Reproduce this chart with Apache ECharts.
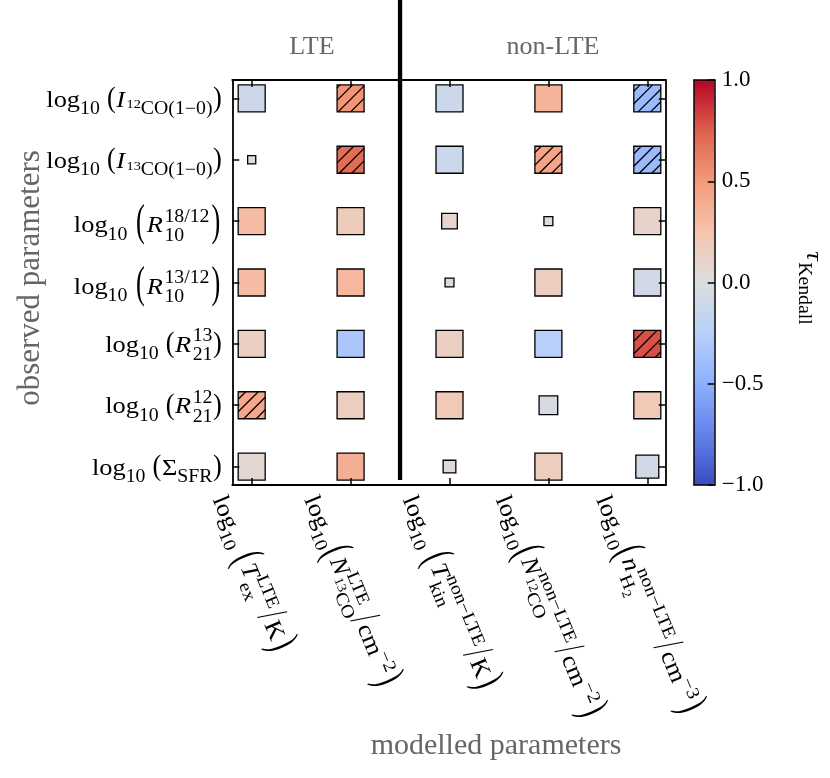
<!DOCTYPE html>
<html><head><meta charset="utf-8">
<script src="https://cdn.jsdelivr.net/npm/echarts@6/dist/echarts.min.js"></script>
<style>html,body{margin:0;padding:0;background:#fff}#c{width:830px;height:778px}</style>
</head><body><div id="c"></div>
<script>
// ---------- data ----------
const modelLabels = [
  'log_{10} \\big(*T*^{LTE}_{ex}\\big/K\\big)',
  'log_{10}\\big(*N*^{LTE}_{^{13}CO}\\big/cm^{−2}\\big)',
  'log_{10} \\big(*T*^{non−LTE}_{kin}\\big/K\\big)',
  'log_{10}\\big(*N*^{non−LTE}_{^{12}CO}\\big/cm^{−2}\\big)',
  'log_{10}\\big(*n*^{non−LTE}_{H_{2}}\\big/cm^{−3}\\big)'
];
const obsLabels = [
  'log_{10} \\m(*I*_{^{12}CO(1−0)}\\m)',
  'log_{10} \\m(*I*_{^{13}CO(1−0)}\\m)',
  'log_{10} \\big(*R*^{18/12}_{10}\\big)',
  'log_{10} \\big(*R*^{13/12}_{10}\\big)',
  'log_{10} \\m(*R*^{13}_{21}\\m)',
  'log_{10} \\m(*R*^{12}_{21}\\m)',
  'log_{10} \\m(Σ_{SFR}\\m)'
];
const groupTitles = ['LTE', 'non-LTE'];
const colorbarTicks = [-1, -0.5, 0, 0.5, 1];

// Kendall tau, one array per observed parameter (columns = modelled parameters)
const tauI12CO  = [-0.11, 0.52, -0.12, 0.35, -0.42];
const tauI13CO  = [ 0.00, 0.70, -0.12, 0.44, -0.42];
const tauR1812  = [ 0.30, 0.17,  0.08, 0.02,  0.10];
const tauR1312  = [ 0.30, 0.32, -0.01, 0.15, -0.08];
const tauR13_21 = [ 0.14, -0.33, 0.14, -0.25, 0.79];
const tauR12_21 = [ 0.42, 0.15,  0.20, -0.05, 0.20];
const tauSFR    = [ 0.07, 0.38,  0.04, 0.16, -0.08];
const tauRows = [tauI12CO, tauI13CO, tauR1812, tauR1312, tauR13_21, tauR12_21, tauSFR];

// relative marker weight (fraction of full cell marker)
const weightRows = [
  [1, 1, 1, 1, 1],
  [0.3, 1, 1, 1, 1],
  [1, 1, 0.58, 0.33, 1],
  [1, 1, 0.33, 1, 1],
  [1, 1, 1, 1, 1],
  [1, 1, 1, 0.69, 1],
  [1, 1, 0.47, 1, 0.85]
];
// hatched (significant) cells
const hatchRows = [
  [0, 1, 0, 0, 1],
  [0, 1, 0, 1, 1],
  [0, 0, 0, 0, 0],
  [0, 0, 0, 0, 0],
  [0, 0, 0, 0, 1],
  [1, 0, 0, 0, 0],
  [0, 0, 0, 0, 0]
];
const dividerX = 1.5;

// ---------- styling ----------
const FONT = '"Liberation Serif", "DejaVu Serif", serif';
const coolwarm = ['#3b4cc0','#6282ea','#8db0fe','#b8d0f9','#dddddd','#f5c4ad','#f49a7b','#de604d','#b40426'];
const FULL = 27, HATCH_STEP = 12.5;

const data = [];
tauRows.forEach((row, r) => row.forEach((v, c) => {
  data.push([c, r, v, weightRows[r][c], hatchRows[r][c]]);
}));

function renderCell(params, api){
  const p = api.coord([api.value(0), api.value(1)]);
  const s = api.value(3) * FULL;
  const x0 = p[0] - s / 2, y0 = p[1] - s / 2;
  const children = [{type:'rect', shape:{x:x0, y:y0, width:s, height:s}, style:{fill:api.visual('color'), stroke:null}}];
  if (api.value(4)){
    const u0 = Math.ceil((x0 + y0) / HATCH_STEP) * HATCH_STEP;
    for (let u = u0; u < x0 + y0 + 2 * s; u += HATCH_STEP){
      const uu = u - x0 - y0;
      const a1 = Math.max(0, uu - s), a2 = Math.min(s, uu);
      if (a2 - a1 < 0.5) continue;
      children.push({type:'line', shape:{x1:x0 + a1, y1:y0 + uu - a1, x2:x0 + a2, y2:y0 + uu - a2},
        style:{stroke:'#000', lineWidth:1.3}});
    }
  }
  children.push({type:'rect', shape:{x:x0, y:y0, width:s, height:s}, style:{fill:null, stroke:'#000', lineWidth:1.3}});
  return {type:'group', children};
}

const chart = echarts.init(document.getElementById('c'), null, {renderer:'canvas'});
const axLine = {show:true, onZero:false, lineStyle:{color:'#000', width:1.8}};
const cbLine = {show:true, onZero:false, lineStyle:{color:'#000', width:1.5}};
const tickIn = (vals) => ({show:true, inside:true, length:7, customValues:vals, lineStyle:{color:'#000', width:1.5}});
const colVals = modelLabels.map((_, i) => i);
const rowVals = obsLabels.map((_, i) => i);

chart.setOption({
  animation:false,
  backgroundColor:'#fff',
  grid:[
    {left:232.3, top:80, width:433.4, height:405},
    {left:694, top:80, width:20.7, height:405}
  ],
  xAxis:[
    {gridIndex:0, type:'value', min:-0.196, max:4.186, position:'bottom', z:5, axisLine:axLine, axisTick:tickIn(colVals), axisLabel:{show:false}, splitLine:{show:false}},
    {gridIndex:0, type:'value', min:-0.196, max:4.186, position:'top', z:5, axisLine:axLine, axisTick:tickIn(colVals), axisLabel:{show:false}, splitLine:{show:false}},
    {gridIndex:1, type:'value', min:0, max:1, position:'bottom', z:10, axisLine:cbLine, axisTick:{show:false}, axisLabel:{show:false}, splitLine:{show:false}},
    {gridIndex:1, type:'value', min:0, max:1, position:'top', z:10, axisLine:cbLine, axisTick:{show:false}, axisLabel:{show:false}, splitLine:{show:false}}
  ],
  yAxis:[
    {gridIndex:0, type:'value', min:-0.3, max:6.3, inverse:true, position:'left', z:5, axisLine:axLine, axisTick:tickIn(rowVals), axisLabel:{show:false}, splitLine:{show:false}},
    {gridIndex:0, type:'value', min:-0.3, max:6.3, inverse:true, position:'right', z:5, axisLine:axLine, axisTick:tickIn(rowVals), axisLabel:{show:false}, splitLine:{show:false}},
    {gridIndex:1, type:'value', min:-1, max:1, position:'left', z:10, axisLine:cbLine, axisTick:{show:false}, axisLabel:{show:false}, splitLine:{show:false}},
    {gridIndex:1, type:'value', min:-1, max:1, interval:0.5, position:'right', z:10,
      axisLine:cbLine,
      axisTick:{show:true, inside:true, length:7, customValues:colorbarTicks, lineStyle:{color:'#000', width:1.5}},
      axisLabel:{show:true, margin:7, color:'#000', fontFamily:FONT, fontSize:23, customValues:colorbarTicks,
        formatter:(v) => (v < 0 ? '−' : '') + Math.abs(v).toFixed(1)},
      splitLine:{show:false}}
  ],
  visualMap:{
    type:'continuous', min:-1, max:1, dimension:2, seriesIndex:0, calculable:false,
    left:694, top:80, itemWidth:20.7, itemHeight:405, padding:0, text:null, hoverLink:false,
    inRange:{color:coolwarm}
  },
  series:[
    {type:'custom', xAxisIndex:0, yAxisIndex:0, z:2, silent:true, clip:false,
      renderItem:renderCell, encode:{x:0, y:1}, data:data},
    {type:'line', xAxisIndex:0, yAxisIndex:0, clip:false, symbol:'none', silent:true, z:6,
      lineStyle:{color:'#000', width:4.3}, data:[[dividerX, -1.62], [dividerX, 6.22]]}
  ]
});

// ---------- math-like label layout ----------
const SZ = [24, 18, 13];
const SUB = [7, 3], SUP = [-10, -6];
const SX = 1.1; // horizontal stretch to mimic the wider Computer Modern glyphs
const cv = document.createElement('canvas').getContext('2d');
function fnt(f, it){ return (it ? 'italic ' : '') + f + 'px ' + FONT; }
function tw(t, f, it){ cv.font = fnt(f, it); return cv.measureText(t).width * SX; }
function readGroup(s, i){
  if (s[i] !== '{') return [s[i], i + 1];
  let d = 0, j = i;
  for (; j < s.length; j++){ if (s[j] === '{') d++; else if (s[j] === '}'){ d--; if (d === 0) break; } }
  return [s.slice(i + 1, j), j + 1];
}
function parse(s){
  const out = []; let buf = '', it = false, i = 0;
  const flush = () => { if (buf){ out.push({k:'t', t:buf, it}); buf = ''; } };
  while (i < s.length){
    const c = s[i];
    if (c === '*'){ flush(); it = !it; i++; }
    else if (c === '\\'){
      flush();
      if (s.startsWith('\\big', i)){ out.push({k:'big', t:s[i+4], sy:1.85}); i += 5; }
      else if (s.startsWith('\\m', i)){ out.push({k:'big', t:s[i+2], sy:1.2}); i += 3; }
      else { i++; }
    }
    else if (c === '^' || c === '_'){
      flush();
      const [g, j] = readGroup(s, i + 1);
      if ((s[j] === '^' || s[j] === '_') && s[j] !== c){
        const [g2, j2] = readGroup(s, j + 1);
        out.push({k:'stack', sup:parse(c === '^' ? g : g2), sub:parse(c === '^' ? g2 : g)}); i = j2;
      } else { out.push({k: c === '^' ? 'sup' : 'sub', c:parse(g)}); i = j; }
    }
    else { buf += c; i++; }
  }
  flush(); return out;
}
function lay(toks, lvl, x, base, items){
  const f = SZ[Math.min(lvl, 2)], l1 = Math.min(lvl, 1);
  for (const tk of toks){
    if (tk.k === 't'){ items.push({t:tk.t, f, it:tk.it, x, y:base, sy:1}); x += tw(tk.t, f, tk.it) + (tk.it ? 1.5 : 0); }
    else if (tk.k === 'big'){
      const pad = tk.sy > 1.5 ? 2 : 0.5;
      items.push({t:tk.t, f, it:false, x:x + pad, y:base, sy:tk.sy}); x += tw(tk.t, f, false) + 2 * pad;
    }
    else if (tk.k === 'sub') x = lay(tk.c, lvl + 1, x, base + SUB[l1], items);
    else if (tk.k === 'sup') x = lay(tk.c, lvl + 1, x, base + SUP[l1], items);
    else if (tk.k === 'stack'){
      const a = lay(tk.sup, lvl + 1, x, base + SUP[l1] - 1, items);
      const b = lay(tk.sub, lvl + 1, x, base + SUB[l1] + 1, items);
      x = Math.max(a, b);
    }
  }
  return x;
}
function build(str){
  const items = []; const W = lay(parse(str), 0, 0, 0, items);
  let top = 0, bot = 0;
  const children = items.map(it => {
    top = Math.min(top, it.y - 0.72 * it.f * it.sy); bot = Math.max(bot, it.y + 0.24 * it.f * it.sy);
    const y = it.sy === 1 ? it.y - 0.34 * it.f : it.y - 0.27 * it.f - 0.0875 * it.f * it.sy;
    return {type:'text', x:it.x, y:y, scaleX:SX, scaleY:it.sy, silent:true,
      style:{text:it.t, font:fnt(it.f, it.it), fill:'#000', align:'left', verticalAlign:'middle'}};
  });
  return {W, top, bot, children};
}

const px = (v) => chart.convertToPixel({xAxisIndex:0}, v);
const py = (v) => chart.convertToPixel({yAxisIndex:0}, v);
const graphics = [];
const leftPx = px(-0.196), bottomPx = py(6.3);

obsLabels.forEach((s, r) => {
  const b = build(s);
  const off = s.indexOf('\\big') >= 0 ? 13 : 10;
  graphics.push({type:'group', x:leftPx - 10 - b.W, y:py(r) + off, children:b.children});
});

const th = 67.5 * Math.PI / 180, cs = Math.cos(th), sn = Math.sin(th);
modelLabels.forEach((s, c) => {
  const b = build(s);
  const Px = px(c) - cs * b.W / 2 + sn / 2 * (b.top + b.bot);
  const Py = bottomPx + 3 - cs * b.top;
  graphics.push({type:'group', x:Px, y:Py, rotation:-th, children:b.children});
});

// colorbar label
{
  const b = build('*τ*_{Kendall}');
  graphics.push({type:'group', x:805, y:288 - b.W / 2, rotation:-Math.PI / 2, children:b.children});
}
// group titles and axis names
const grey = '#666';
graphics.push({type:'text', x:312, y:47, silent:true, style:{text:groupTitles[0], font:'26px ' + FONT, fill:grey, align:'center', verticalAlign:'middle'}});
graphics.push({type:'text', x:553, y:47, silent:true, style:{text:groupTitles[1], font:'26px ' + FONT, fill:grey, align:'center', verticalAlign:'middle'}});
graphics.push({type:'text', x:31, y:278, rotation:Math.PI / 2, silent:true, style:{text:'observed parameters', font:'31px ' + FONT, fill:grey, align:'center', verticalAlign:'middle'}});
graphics.push({type:'text', x:496, y:746, silent:true, style:{text:'modelled parameters', font:'30px ' + FONT, fill:grey, align:'center', verticalAlign:'middle'}});

chart.setOption({graphic:graphics});
</script>
</body></html>
